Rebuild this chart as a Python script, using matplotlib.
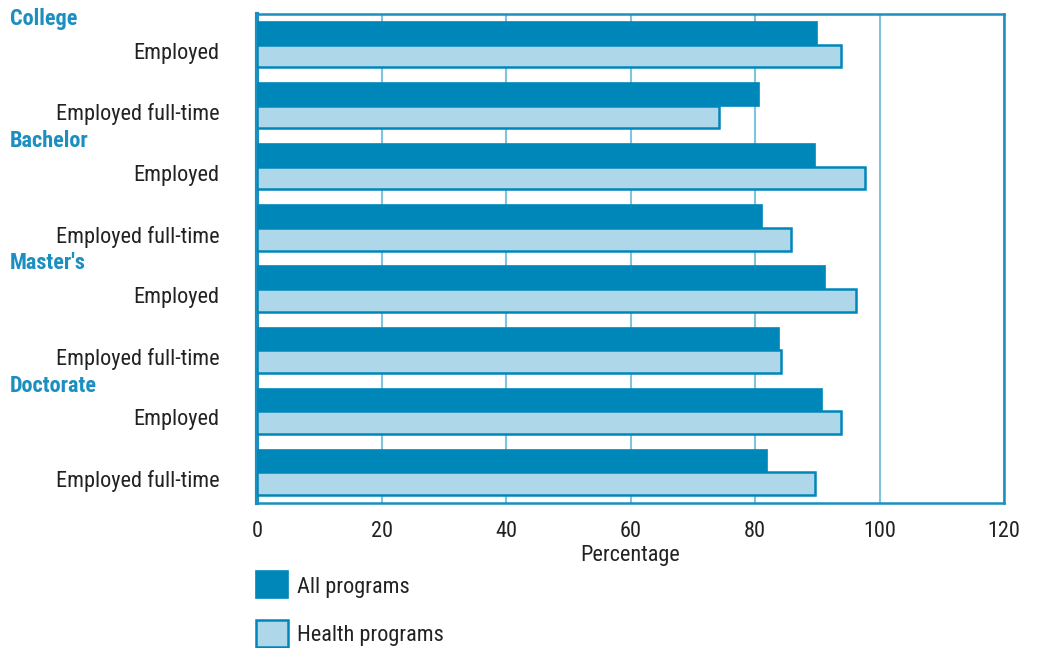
import matplotlib
matplotlib.use("Agg")
import matplotlib.pyplot as plt
from matplotlib import font_manager
from matplotlib.patches import Rectangle
import matplotlib.transforms as mtransforms
import numpy as np

groups = ["College", "Bachelor", "Master's", "Doctorate"]
measures = ["Employed", "Employed full-time"]
all_programs = [90.0, 80.7, 89.7, 81.1, 91.3, 83.9, 90.7, 82.0]
health_programs = [93.8, 74.2, 97.6, 85.8, 96.3, 84.2, 93.8, 89.6]
x_ticks = [0, 20, 40, 60, 80, 100, 120]
legend_labels = ["All programs", "Health programs"]

# prefer a condensed face if one is installed
names = {f.name for f in font_manager.fontManager.ttflist}
narrow = [n for n in ['Roboto Condensed', 'Liberation Sans Narrow', 'Open Sans Condensed'] if n in names]
plt.rcParams['font.family'] = narrow + ['Roboto', 'DejaVu Sans']

dark = '#0087ba'
light = '#aed7ea'
grid_col = '#7fc3de'
text_col = '#222222'
fs = 16

fig = plt.figure(figsize=(10.37, 6.48), dpi=100)
ax = fig.add_axes([257 / 1037, 1 - 503 / 648, (1004 - 257) / 1037, (503 - 14) / 648])

rows = np.arange(len(all_programs))
h = 0.37
ax.barh(rows - h / 2, all_programs, height=h, color=dark, edgecolor=dark, linewidth=1.2, zorder=3)
ax.barh(rows + h / 2, health_programs, height=h, color=light, edgecolor=dark, linewidth=1.8, zorder=3)

ax.set_xlim(0, 120)
ax.set_ylim(len(rows) - 0.5, -0.5)
ax.set_xticks(x_ticks)
ax.set_xticklabels([str(t) for t in x_ticks], fontsize=fs, color=text_col)
ax.set_yticks(rows + 0.1)
ax.set_yticklabels(measures * len(groups), fontsize=fs, color=text_col)
ax.tick_params(axis='y', length=0, pad=27)
ax.tick_params(axis='x', length=0, pad=13)
ax.xaxis.grid(True, color=grid_col, linewidth=1.5, zorder=0)
ax.set_axisbelow(True)
for side, sp in ax.spines.items():
    sp.set_color('#1a8fc0')
    sp.set_linewidth(1.8)
ax.spines['left'].set_linewidth(3)
ax.set_xlabel("Percentage", fontsize=fs, color=text_col, labelpad=2)

# group headings sit on the category boundaries, at the far left of the figure
trans = mtransforms.blended_transform_factory(fig.transFigure, ax.transData)
for i, g in enumerate(groups):
    ax.text(10 / 1037, 2 * i - 0.42, g, transform=trans, fontsize=fs, fontweight='bold',
            color='#1a8fc0', ha='left', va='center')

# legend swatches below the axis
W, H = 1037, 648
for k, (lab, fc, lw) in enumerate(zip(legend_labels, [dark, light], [1.2, 1.8])):
    top = 571 + 49 * k
    fig.add_artist(Rectangle((256 / W, 1 - (top + 27) / H), 32 / W, 27 / H,
                             transform=fig.transFigure, facecolor=fc, edgecolor=dark, linewidth=lw))
    fig.text(297 / W, 1 - (top + 16) / H, lab, fontsize=fs, color=text_col, ha='left', va='center')

fig.savefig("out.png", dpi=100)
